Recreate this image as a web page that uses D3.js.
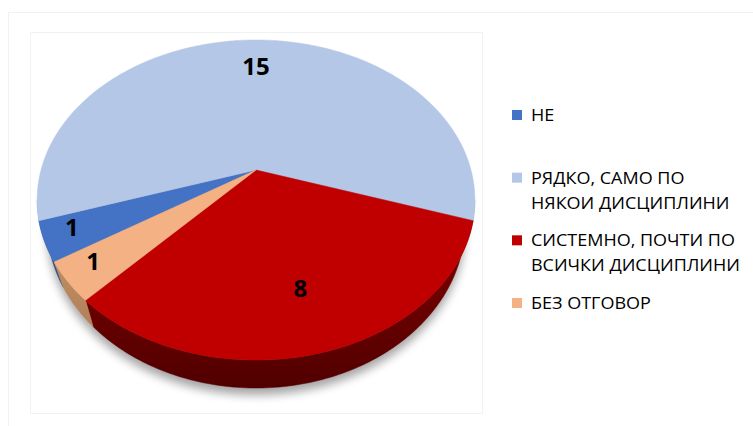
<!DOCTYPE html>
<meta charset="utf-8">
<style>
  body { margin: 0; background: #fff; }
  .label { font-family: "Open Sans", sans-serif; font-weight: bold; font-size: 24px; fill: #000; }
  .legend text { font-family: "Open Sans", sans-serif; font-size: 17px; fill: #000; }
  .frame { fill: none; stroke: #f2f2f2; stroke-width: 1; }
</style>
<body></body>
<script src="https://d3js.org/d3.v7.min.js"></script>
<script>
// data
var categories = ["НЕ", "РЯДКО, САМО ПО НЯКОИ ДИСЦИПЛИНИ", "СИСТЕМНО, ПОЧТИ ПО ВСИЧКИ ДИСЦИПЛИНИ", "БЕЗ ОТГОВОР"];
var legendLines = [["НЕ"], ["РЯДКО, САМО ПО", "НЯКОИ ДИСЦИПЛИНИ"], ["СИСТЕМНО, ПОЧТИ ПО", "ВСИЧКИ ДИСЦИПЛИНИ"], ["БЕЗ ОТГОВОР"]];
var values = [1, 15, 8, 1];

// colours: top face, side (upper / lower)
var topColors = ["#4472c4", "#b4c7e7", "#c00000", "#f4b183"];
var sideTop = ["#2f5597", "#8eaadb", "#8a0000", "#c9966c"];
var sideBottom = ["#203d6e", "#6f8cc0", "#500000", "#a87650"];

var width = 753, height = 426;
var svg = d3.select("body").append("svg")
    .attr("width", width)
    .attr("height", height);

// faint chart / plot area frames
svg.append("rect").attr("class", "frame").attr("x", 8.5).attr("y", 12.5).attr("width", 760).attr("height", 430);
svg.append("rect").attr("class", "frame").attr("x", 30.5).attr("y", 32.5).attr("width", 452).attr("height", 381);

// perspective tilted disc
var cx = 256, cy = 170;
var A = 215, B = 154.4, k = 0.1875, depth = 22.75, shrink = 0.955;
var rad = Math.PI / 180;

function projTop(t, r) {
    var w = 1 - k * r * Math.sin(t);
    return [cx + A * r * Math.cos(t) / w, cy + B * r * Math.sin(t) / w];
}
function projBottom(t) {
    var w = 1 - k * Math.sin(t);
    return [cx + shrink * A * Math.cos(t) / w, cy + (B * Math.sin(t) + depth) / w];
}
function arcPoints(f, a0, a1) {
    var n = Math.max(2, Math.ceil(Math.abs(a1 - a0) / rad));
    return d3.range(n + 1).map(function(i) { return f(a0 + (a1 - a0) * i / n); });
}

var pie = d3.pie().sort(null)
    .startAngle(237.6 * rad)
    .endAngle(237.6 * rad + 2 * Math.PI);
// theta measured from 3 o'clock, clockwise on screen
var arcs = pie(values).map(function(d, i) {
    return {i: i, value: d.value, t0: d.startAngle - Math.PI / 2, t1: d.endAngle - Math.PI / 2};
});

var line = d3.line().curve(d3.curveLinearClosed);

var defs = svg.append("defs");
defs.append("filter").attr("id", "blur")
    .attr("x", "-20%").attr("y", "-20%").attr("width", "140%").attr("height", "140%")
    .append("feGaussianBlur").attr("stdDeviation", 5);

arcs.forEach(function(a) {
    var g = defs.append("linearGradient").attr("id", "side" + a.i)
        .attr("gradientUnits", "userSpaceOnUse")
        .attr("x1", 0).attr("x2", 0).attr("y1", 200).attr("y2", 390);
    g.append("stop").attr("offset", 0).attr("stop-color", sideTop[a.i]);
    g.append("stop").attr("offset", 1).attr("stop-color", sideBottom[a.i]);
});

// shadow under the disc
svg.append("path")
    .attr("d", line(arcPoints(projBottom, 0, 2 * Math.PI)))
    .attr("transform", "translate(0,7)")
    .attr("fill", "#000")
    .attr("opacity", 0.35)
    .attr("filter", "url(#blur)");

// visible outer wall
var vis0 = Math.asin(k), vis1 = Math.PI - Math.asin(k);
var sides = [];
arcs.forEach(function(a) {
    [-2 * Math.PI, 0, 2 * Math.PI].forEach(function(off) {
        var lo = Math.max(a.t0, vis0 + off), hi = Math.min(a.t1, vis1 + off);
        if (hi > lo) sides.push({i: a.i, lo: lo, hi: hi});
    });
});
svg.append("g").selectAll("path")
    .data(sides)
    .join("path")
    .attr("d", function(s) {
        var pts = arcPoints(function(t) { return projTop(t, 1); }, s.lo, s.hi)
            .concat(arcPoints(projBottom, s.hi, s.lo));
        return line(pts);
    })
    .attr("fill", function(s) { return "url(#side" + s.i + ")"; })
    .attr("stroke", function(s) { return "url(#side" + s.i + ")"; })
    .attr("stroke-width", 0.5);

// top faces
svg.append("g").selectAll("path")
    .data(arcs)
    .join("path")
    .attr("d", function(a) {
        return line([[cx, cy]].concat(arcPoints(function(t) { return projTop(t, 1); }, a.t0, a.t1)));
    })
    .attr("fill", function(a) { return topColors[a.i]; })
    .attr("stroke", function(a) { return topColors[a.i]; })
    .attr("stroke-width", 0.5);

// data labels
var total = d3.sum(values);
function labelPos(a) {
    return projTop((a.t0 + a.t1) / 2, a.value / total < 0.1 ? 0.88 : 0.72);
}
svg.append("g").selectAll("text")
    .data(arcs)
    .join("text")
    .attr("class", "label")
    .attr("text-anchor", "middle")
    .attr("dy", "0.35em")
    .attr("x", function(a) { return labelPos(a)[0]; })
    .attr("y", function(a) { return labelPos(a)[1] - 5; })
    .text(function(a) { return a.value; });

// legend
var ly = d3.scalePoint().domain(categories).range([121, 309]);
var legend = svg.append("g").attr("class", "legend");
var items = legend.selectAll("g")
    .data(categories)
    .join("g")
    .attr("transform", function(c) { return "translate(512," + ly(c) + ")"; });
items.append("rect")
    .attr("x", 0).attr("y", -11)
    .attr("width", 10).attr("height", 10)
    .attr("fill", function(c, i) { return topColors[i]; });
var texts = items.append("text");
texts.selectAll("tspan")
    .data(function(c, i) { return legendLines[i]; })
    .join("tspan")
    .attr("x", 0)
    .attr("y", function(d, j) { return j * 25; })
    .text(function(d) { return d; });

// narrow the substitute font so the longest line keeps its width
var maxLen = d3.max(legend.selectAll("tspan").nodes(), function(n) { return n.getComputedTextLength(); });
texts.attr("transform", "translate(19,0) scale(" + (209 / maxLen) + ",1)");
</script>
